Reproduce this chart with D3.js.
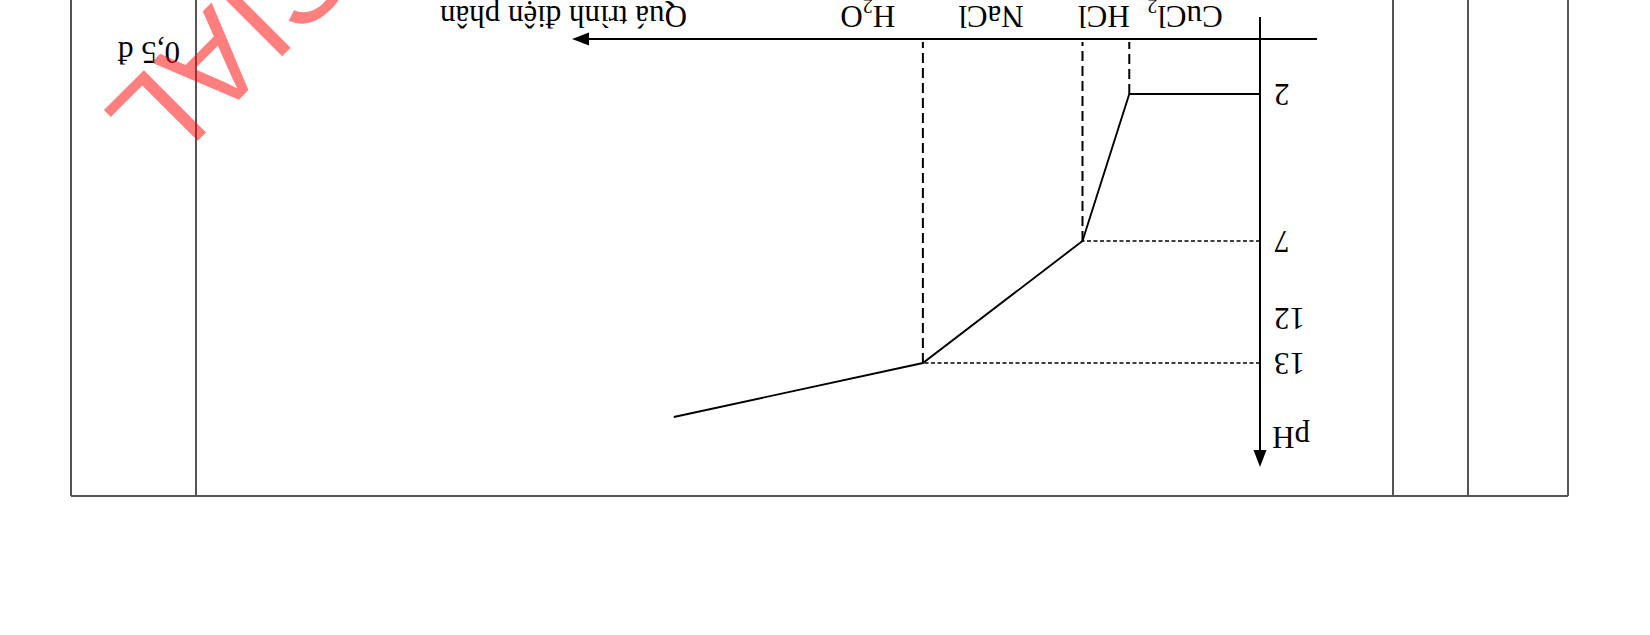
<!DOCTYPE html>
<html>
<head>
<meta charset="utf-8">
<script src="https://cdn.jsdelivr.net/npm/d3@7/dist/d3.min.js"></script>
<style>
  html, body { margin: 0; padding: 0; background: #fff; }
  svg { display: block; }
</style>
</head>
<body>
<script>
// ---- data ----
const stages = ["CuCl|2", "HCl", "NaCl", "H|2|O"];      // electrolysed species, "|" marks subscript split
const stageLabelAt = [10.9, 22.7, 39.1, 57.0];           // label centres (progress units)
const stageEnds = [19.0, 25.8, 49.0];                    // progress where each stage ends
const progress = [0, 19.0, 25.8, 49.0, 85.2];            // curve: progress of electrolysis
const pHValues = [2, 2, 7, 13, 14.2];                    // curve: pH
const guidePH = [7, 13];                                 // dotted guide levels
const yTicks = [2, 7, 12, 13];
const xTitle = "Quá trình điện phân";
const yTitle = "pH";
const scoreText = "0,5 đ";
const watermark = "OFFICIAL";

// ---- layout ----
const W = 1650, H = 635;
const svg = d3.select("body").append("svg").attr("width", W).attr("height", H);
const g = svg.append("g").attr("transform", `rotate(180 ${W / 2} ${H / 2})`);
const serif = "'Liberation Serif', 'Times New Roman', serif";
const FS = 31;

const x = d3.scaleLinear().domain([0, 100]).range([390, 1078]);
const y = d3.scaleLinear().domain([2, 7, 12, 13]).range([541, 394, 317, 272]);
const x0 = x(0), axisY = 596;

// table frame
const tbl = g.append("g").attr("stroke", "#555").attr("stroke-width", 2).attr("fill", "none");
const tTop = 139;
[82, 182, 257, 1454, 1579].forEach(cx => {
  tbl.append("line").attr("x1", cx).attr("x2", cx).attr("y1", tTop).attr("y2", H + 5);
});
tbl.append("line").attr("x1", 82).attr("x2", 1579).attr("y1", tTop).attr("y2", tTop);

// score text
g.append("text").attr("x", 1470).attr("y", 593)
  .attr("font-family", serif).attr("font-size", FS).attr("fill", "#000").text(scoreText);

// guide dotted lines (horizontal)
const pts = progress.map((p, i) => [p, pHValues[i]]);
guidePH.forEach(v => {
  const pt = pts.find(d => d[1] === v);
  g.append("line").attr("x1", x0).attr("x2", x(pt[0])).attr("y1", y(v)).attr("y2", y(v))
    .attr("stroke", "#000").attr("stroke-width", 1.3).attr("stroke-dasharray", "4,2.5");
});

// stage boundary dashed lines (vertical)
stageEnds.forEach(s => {
  const pt = pts.find(d => d[0] === s);
  g.append("line").attr("x1", x(s)).attr("x2", x(s)).attr("y1", y(pt[1])).attr("y2", axisY - 3)
    .attr("stroke", "#000").attr("stroke-width", 2).attr("stroke-dasharray", "10,5");
});

// curve
g.append("path").datum(pts)
  .attr("d", d3.line().x(d => x(d[0])).y(d => y(d[1])))
  .attr("fill", "none").attr("stroke", "#000").attr("stroke-width", 1.9);

// y axis (ticks only, domain drawn manually with arrow)
const yAxis = g.append("g").attr("transform", `translate(${x0},0)`)
  .call(d3.axisLeft(y).tickValues(yTicks).tickSize(0).tickPadding(14).tickFormat(d3.format("d")));
yAxis.select(".domain").remove();
yAxis.selectAll("text").attr("font-family", serif).attr("font-size", FS).attr("fill", "#000");

// axis lines
const yTip = 168, xTip = x(100);
g.append("line").attr("x1", x0).attr("x2", x0).attr("y1", 618).attr("y2", yTip + 12)
  .attr("stroke", "#000").attr("stroke-width", 2);
g.append("path").attr("d", `M${x0},${yTip} L${x0 - 6.5},${yTip + 17} L${x0 + 6.5},${yTip + 17} Z`).attr("fill", "#000");
g.append("line").attr("x1", 333).attr("x2", xTip - 12).attr("y1", axisY).attr("y2", axisY)
  .attr("stroke", "#000").attr("stroke-width", 2);
g.append("path").attr("d", `M${xTip},${axisY} L${xTip - 17},${axisY - 6.5} L${xTip - 17},${axisY + 6.5} Z`).attr("fill", "#000");

// axis titles
g.append("text").attr("x", 378).attr("y", 208.5).attr("text-anchor", "end")
  .attr("font-family", serif).attr("font-size", FS).text(yTitle);
g.append("text").attr("x", 963).attr("y", 629)
  .attr("font-family", serif).attr("font-size", FS).text(xTitle);

// stage labels
stages.forEach((s, i) => {
  const t = g.append("text").attr("x", x(stageLabelAt[i])).attr("y", 629).attr("text-anchor", "middle")
    .attr("font-family", serif).attr("font-size", FS);
  const parts = s.split("|");
  parts.forEach((p, j) => {
    const sub = j % 2 === 1;
    t.append("tspan").attr("font-size", sub ? 20 : FS)
      .attr("dy", sub ? 7 : (j > 0 ? -7 : 0)).text(p);
  });
});

// watermark
g.append("text").attr("x", 1549).attr("y", 522).attr("text-anchor", "end")
  .attr("transform", "rotate(-45 1549 522)")
  .attr("font-family", "'Liberation Sans', Arial, sans-serif").attr("font-size", 128)
  .attr("fill", "#ff0000").attr("fill-opacity", 0.5).text(watermark);
</script>
</body>
</html>
